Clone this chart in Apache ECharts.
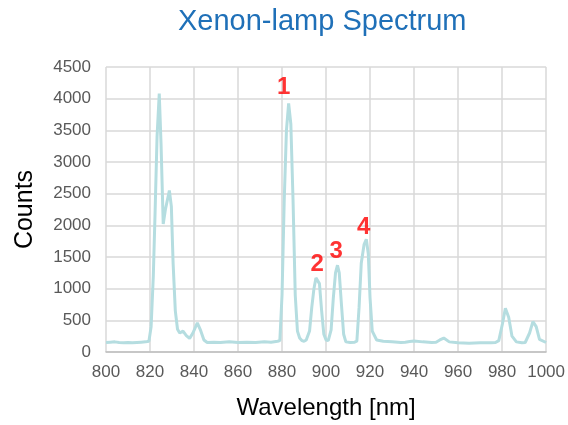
<!DOCTYPE html>
<html>
<head>
<meta charset="utf-8">
<script src="https://cdn.jsdelivr.net/npm/echarts@6/dist/echarts.min.js"></script>
<style>html,body{margin:0;padding:0;background:#fff}#c{width:568px;height:425px}</style>
</head>
<body>
<div id="c"></div>
<script>
var wavelength = [800,802,804,806,808,810,812,814,816,818,819.5,820.5,821.5,822.3,823.2,824.2,825,826,827,828.8,829.7,830.5,831.5,832.5,833.5,835,836.5,838,839.5,841.5,843,844.5,846,849,852,856,860,864,868,872,875,878,879,880,881,882,883,884,885,886,887,888,889,890,891,892.5,893.5,894.5,895.4,896.2,897,898,899,900,901,902.3,903.3,904.3,905.2,906,907,908,909,911,913,914,915,916,917.3,918.3,919.2,920,921,923,926,930,934,936,938,940,944,948,950,951.7,953.5,956,960,965,970,975,977,978.5,980.2,981.5,983,984.5,986.5,989,990.5,992.5,994,995.5,997,1000];
var counts = [150,155,160,150,145,150,145,150,155,160,170,400,1200,2200,3400,4080,3300,2020,2250,2550,2300,1400,650,360,300,330,260,215,300,460,340,190,150,155,150,160,150,155,150,160,155,170,180,900,2400,3500,3925,3600,2400,900,330,220,180,170,190,330,700,1000,1170,1200,1080,650,280,190,180,350,850,1250,1370,1250,750,280,160,150,155,170,700,1400,1700,1780,1550,850,330,190,170,160,150,155,165,175,160,150,155,190,220,160,145,140,145,145,150,180,450,690,550,250,160,145,150,300,480,400,200,150,155];
var peakNames = ['1','2','3','4'];
var peakLabelX = [880.7,896.0,904.6,917.1];
var peakLabelY = [4180,1380,1590,1960];
var xTicks = [800,820,840,860,880,900,920,940,960,980,1000];
var yTicks = [0,500,1000,1500,2000,2500,3000,3500,4000,4500];

var spectrum = wavelength.map(function(w,i){return [w,counts[i]];});
var peaks = peakNames.map(function(n,i){return {value:[peakLabelX[i],peakLabelY[i]],name:n};});

var chart = echarts.init(document.getElementById('c'));
chart.setOption({
  animation:false,
  backgroundColor:'#ffffff',
  title:{text:'Xenon-lamp Spectrum',left:173,top:2,
    textStyle:{fontFamily:'Liberation Sans, Arial, sans-serif',fontSize:29,fontWeight:'normal',color:'#1f70b8'}},
  grid:{left:106,right:19,top:67,bottom:72,containLabel:false},
  xAxis:{type:'value',min:xTicks[0],max:xTicks[xTicks.length-1],interval:20,
    name:'Wavelength [nm]',nameLocation:'middle',nameGap:44,
    nameTextStyle:{fontFamily:'Liberation Sans, Arial, sans-serif',fontSize:24,color:'#000'},
    axisLine:{show:true,lineStyle:{color:'#bfbfbf',width:1.5}},
    axisTick:{show:false},
    axisLabel:{fontFamily:'Liberation Sans, Arial, sans-serif',fontSize:17,color:'#595959',margin:12,
      formatter:function(v){return String(v);}},
    splitLine:{show:true,lineStyle:{color:'#d9d9d9',width:1.5}}},
  yAxis:{type:'value',min:yTicks[0],max:yTicks[yTicks.length-1],interval:500,
    name:'Counts',nameLocation:'middle',nameGap:68,
    nameTextStyle:{fontFamily:'Liberation Sans, Arial, sans-serif',fontSize:25,color:'#000'},
    axisLine:{show:false},axisTick:{show:false},
    axisLabel:{fontFamily:'Liberation Sans, Arial, sans-serif',fontSize:17,color:'#595959',margin:15,
      formatter:function(v){return String(v);}},
    splitLine:{show:true,lineStyle:{color:'#d9d9d9',width:1.5}}},
  series:[
    {type:'line',data:spectrum,showSymbol:false,smooth:false,
      lineStyle:{color:'#b5dde0',width:3},itemStyle:{color:'#b5dde0'},z:3},
    {type:'scatter',data:peaks,symbolSize:0,z:4,
      label:{show:true,position:'inside',formatter:function(p){return p.name;},
        fontFamily:'Liberation Sans, Arial, sans-serif',fontSize:24,fontWeight:'bold',color:'#ff0000'}}
  ]
});
</script>
</body>
</html>
